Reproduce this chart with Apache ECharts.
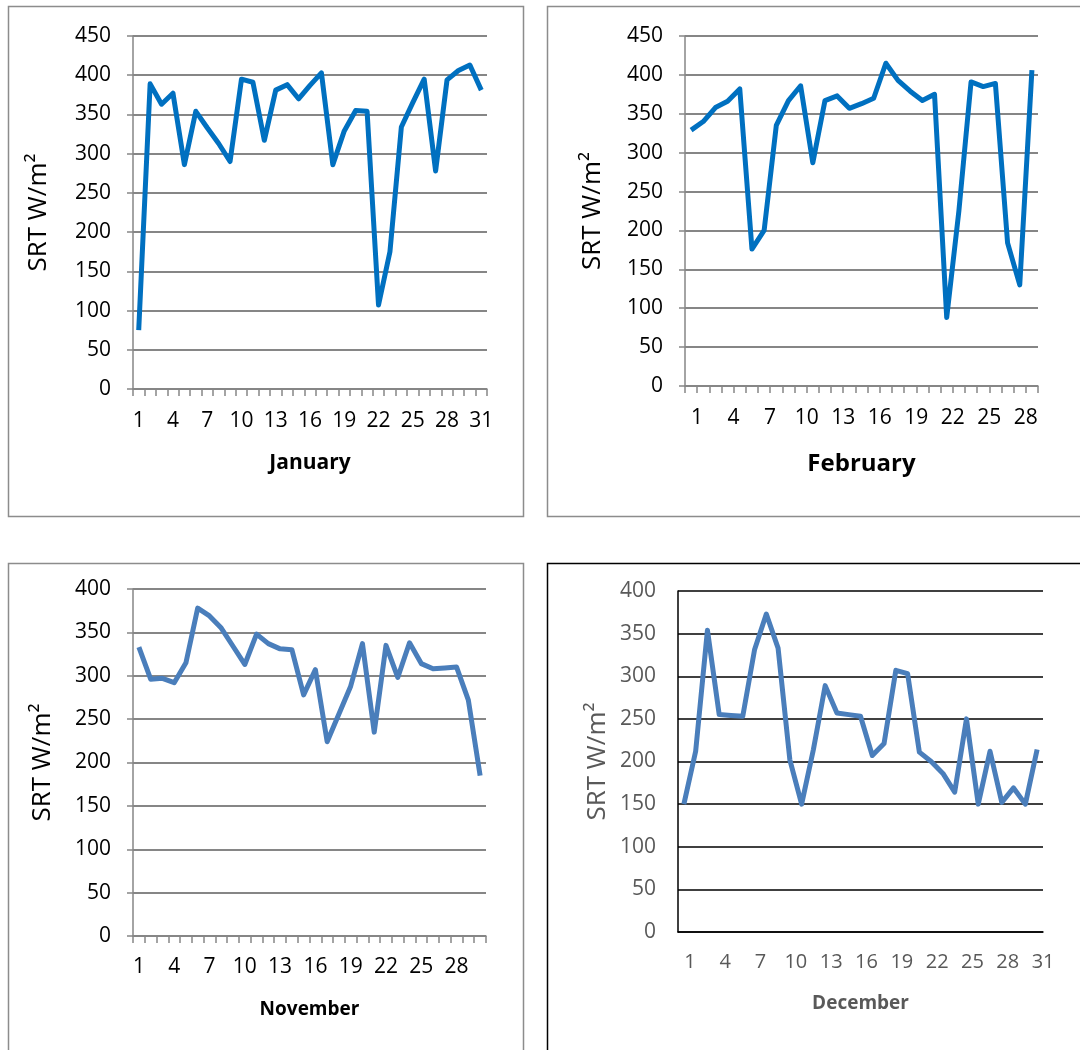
<!DOCTYPE html>
<html>
<head>
<meta charset="utf-8">
<title>SRT monthly</title>
<script src="https://cdn.jsdelivr.net/npm/echarts@6/dist/echarts.min.js"></script>
<style>
  html, body { margin: 0; padding: 0; background: #fff; }
  #chart { width: 1080px; height: 1050px; }
</style>
</head>
<body>
<div id="chart"></div>
<script>
// day labels (sliced per month)
const days = ['1','2','3','4','5','6','7','8','9','10','11','12','13','14','15','16',
  '17','18','19','20','21','22','23','24','25','26','27','28','29','30','31']

// SRT W/m2
const janValues = [75, 389, 363, 377, 286, 354, 333, 313, 290, 395, 391, 317, 381, 388, 370, 387,
  403, 286, 329, 355, 354, 107, 175, 334, 365, 395, 278, 394, 406, 413, 381]
const febValues = [329, 340, 358, 366, 382, 176, 200, 335, 367, 386, 287, 367, 373, 357, 363, 370,
  415, 393, 379, 367, 375, 88, 225, 391, 385, 389, 184, 130, 406]
const novValues = [333, 296, 297, 292, 315, 378, 369, 355, 334, 313, 348, 337, 331, 330, 278, 307,
  224, 256, 288, 337, 235, 335, 298, 338, 314, 308, 309, 310, 272, 185]
const decValues = [150, 212, 354, 255, 254, 253, 331, 373, 333, 202, 150, 214, 289, 257, 255, 253,
  207, 221, 307, 303, 211, 200, 186, 164, 250, 150, 212, 152, 169, 150, 214]

const FONT = '"Open Sans", Lato, sans-serif'
const yName = 'SRT W/m\u00b2'

const grid = []
const xAxis = []
const yAxis = []
const series = []

function panel (p) {
  const i = grid.length
  grid.push({ left: p.left, top: p.top, width: p.width, height: p.height, containLabel: false })
  xAxis.push({
    type: 'category',
    gridIndex: i,
    data: p.cats,
    boundaryGap: true,
    name: p.month,
    nameLocation: 'middle',
    nameGap: p.nameGap,
    nameTextStyle: { fontFamily: FONT, fontWeight: 'bold', fontSize: p.monthSize, color: p.textColor },
    axisLine: { lineStyle: { color: p.axisColor, width: p.axisWidth } },
    axisTick: { show: p.ticks, interval: 0, length: 7, lineStyle: { color: p.axisColor, width: 1.5 } },
    axisLabel: {
      interval: 2,
      margin: p.labelMargin,
      fontFamily: FONT,
      fontSize: p.xLabelSize,
      color: p.textColor,
      padding: p.labelPad || 0
    },
    splitLine: { show: false }
  })
  yAxis.push({
    type: 'value',
    gridIndex: i,
    min: 0,
    max: p.max,
    interval: 50,
    name: yName,
    nameLocation: 'middle',
    nameGap: p.yNameGap,
    nameTextStyle: { fontFamily: FONT, fontSize: 26, color: p.textColor },
    axisLine: { show: true, lineStyle: { color: p.axisColor, width: p.axisWidth } },
    axisTick: { show: p.ticks, length: 6, lineStyle: { color: p.axisColor, width: 1.5 } },
    axisLabel: { margin: 22, fontFamily: FONT, fontSize: 21, color: p.textColor },
    splitLine: { lineStyle: { color: p.gridColor, width: p.gridWidth } }
  })
  series.push({
    type: 'line',
    xAxisIndex: i,
    yAxisIndex: i,
    data: p.values,
    symbol: 'none',
    lineStyle: { color: p.lineColor, width: 5, join: 'round' }
  })
}

panel({
  month: 'January', cats: days.slice(0, 31), values: janValues, max: 450,
  left: 133, top: 36, width: 354, height: 353,
  nameGap: 64, yNameGap: 81, monthSize: 21, labelMargin: 22, xLabelSize: 21,
  textColor: '#000', axisColor: '#868686', axisWidth: 1.5, gridColor: '#868686', gridWidth: 2,
  ticks: true, lineColor: '#0070C0'
})
panel({
  month: 'February', cats: days.slice(0, 29), values: febValues, max: 450,
  left: 685, top: 36, width: 353, height: 350,
  nameGap: 66, yNameGap: 79, monthSize: 24, labelMargin: 22, xLabelSize: 21, labelPad: [0, 0, 0, 12],
  textColor: '#000', axisColor: '#868686', axisWidth: 1.5, gridColor: '#868686', gridWidth: 2,
  ticks: true, lineColor: '#0070C0'
})
panel({
  month: 'November', cats: days.slice(0, 30), values: novValues, max: 400,
  left: 133, top: 589, width: 353, height: 347,
  nameGap: 64, yNameGap: 77, monthSize: 19, labelMargin: 21, xLabelSize: 21,
  textColor: '#000', axisColor: '#868686', axisWidth: 1.5, gridColor: '#868686', gridWidth: 2,
  ticks: true, lineColor: '#4A7EBB'
})
panel({
  month: 'December', cats: days.slice(0, 31), values: decValues, max: 400,
  left: 678, top: 591, width: 365, height: 341,
  nameGap: 62, yNameGap: 67, monthSize: 19, labelMargin: 20, xLabelSize: 20, labelPad: [0, 0, 0, 12],
  textColor: '#595959', axisColor: '#000', axisWidth: 1.5, gridColor: '#000', gridWidth: 1.5,
  ticks: false, lineColor: '#4A7EBB'
})

const chart = echarts.init(document.getElementById('chart'), null, { renderer: 'canvas' })
chart.setOption({
  backgroundColor: '#fff',
  animation: false,
  graphic: [
    { type: 'rect', shape: { x: 8.5, y: 6.5, width: 515, height: 510 }, style: { fill: 'none', stroke: '#8c8c8c', lineWidth: 1.5 }, z: -1 },
    { type: 'rect', shape: { x: 547.5, y: 6.5, width: 540, height: 510 }, style: { fill: 'none', stroke: '#8c8c8c', lineWidth: 1.5 }, z: -1 },
    { type: 'rect', shape: { x: 8.5, y: 563.5, width: 515, height: 500 }, style: { fill: 'none', stroke: '#8c8c8c', lineWidth: 1.5 }, z: -1 },
    { type: 'rect', shape: { x: 547.5, y: 563.5, width: 540, height: 500 }, style: { fill: 'none', stroke: '#000', lineWidth: 1.5 }, z: -1 }
  ],
  grid,
  xAxis,
  yAxis,
  series
})
</script>
</body>
</html>
